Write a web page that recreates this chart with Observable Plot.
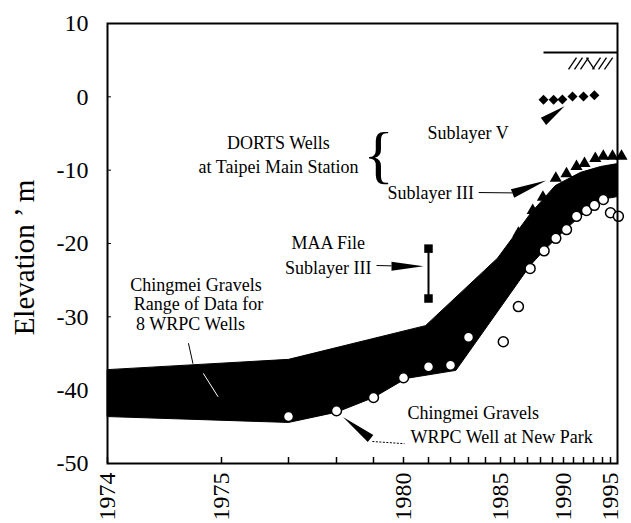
<!DOCTYPE html>
<html><head><meta charset="utf-8">
<script src="https://cdn.jsdelivr.net/npm/d3@7"></script>
<script src="https://cdn.jsdelivr.net/npm/@observablehq/plot@0.6"></script>
<style>body{margin:0;background:#fff}</style>
</head><body><div id="chart"></div>
<script>
// ---- axis ticks ----
const tickYears = [1974,1975,1977,1978,1979,1980,1981,1982,1983,1984,1985,1986,1987,1988,1989,1990,1991,1992,1993,1994,1995];
const labelYears = [1974,1975,1980,1985,1990,1995];
const yTicks = [-50,-40,-30,-20,-10,0,10];

// ---- Chingmei Gravels range of data for 8 WRPC wells (band edges) ----
const bandUpper = [
  {year:1974, elev:-37.2},{year:1977, elev:-35.8},{year:1980.88, elev:-31.2},
  {year:1984.8, elev:-22.0},{year:1987.23, elev:-15.9},{year:1989.25, elev:-12.1},
  {year:1991.7, elev:-10.3},{year:1993.78, elev:-9.5},{year:1995.8, elev:-9.1}
];
const bandLower = [
  {year:1974, elev:-43.6},{year:1977, elev:-44.4},{year:1978, elev:-43.0},
  {year:1979, elev:-41.0},{year:1980.1, elev:-38.4},{year:1982.3, elev:-37.3},
  {year:1987.2, elev:-23.0},{year:1988.25, elev:-21.0},{year:1990.4, elev:-17.8},
  {year:1992.7, elev:-15.1},{year:1994.3, elev:-13.9},{year:1995.8, elev:-13.6}
];

// ---- WRPC well at New Park (open circles) ----
const newPark = [
  {year:1977, elev:-43.6},{year:1978, elev:-42.8},{year:1979, elev:-41.0},
  {year:1980, elev:-38.3},{year:1981, elev:-36.8},{year:1982, elev:-36.6},
  {year:1983, elev:-32.8},{year:1985.2, elev:-33.4},{year:1986.3, elev:-28.6},
  {year:1987.2, elev:-23.4},{year:1988.3, elev:-21.0},{year:1989.3, elev:-19.3},
  {year:1990.3, elev:-18.1},{year:1991.3, elev:-16.3},{year:1992.3, elev:-15.5},
  {year:1993.1, elev:-14.8},{year:1994.1, elev:-14.0},{year:1995, elev:-15.8},
  {year:1995.9, elev:-16.3}
];

// ---- DORTS wells, Sublayer III (triangles) ----
const dortsIII = [
  {year:1986.3, elev:-18.6},{year:1987.4, elev:-15.5},{year:1988.2, elev:-13.7},
  {year:1989.3, elev:-11.1},{year:1990.3, elev:-10.5},{year:1991.3, elev:-9.5},
  {year:1992.1, elev:-9.1},{year:1993.2, elev:-8.4},{year:1994.1, elev:-8.1},
  {year:1995.23, elev:-8.1},{year:1996.26, elev:-8.1}
];

// ---- DORTS wells, Sublayer V (diamonds) ----
const dortsV = [
  {year:1988.25, elev:-0.4},{year:1989.1, elev:-0.4},{year:1989.9, elev:-0.35},
  {year:1990.9, elev:0.05},{year:1992, elev:0.05},{year:1993.1, elev:0.2}
];

// ---- MAA file, Sublayer III (range) ----
const maa = [{year:1981, lo:-27.5, hi:-20.7}];

// ---- annotations ----
const notesMiddle = [
  {year:1976.70, elev:-6.36, text:"DORTS Wells"},
  {year:1976.70, elev:-9.64, text:"at Taipei Main Station"},
  {year:1977.83, elev:-20.0, text:"MAA File"},
  {year:1977.83, elev:-23.4, text:"Sublayer III"}
];
const notesStart = [
  {year:1980.96, elev:-5.0, text:"Sublayer V"},
  {year:1979.47, elev:-13.18, text:"Sublayer III"},
  {year:1974.2, elev:-25.7, text:"Chingmei Gravels"},
  {year:1974.23, elev:-28.3, text:"Range of Data for"},
  {year:1974.25, elev:-30.95, text:"8 WRPC Wells"},
  {year:1980.16, elev:-43.18, text:"Chingmei Gravels"},
  {year:1980.28, elev:-46.45, text:"WRPC Well at New Park"}
];
const wedges = [
  {year:1988.25, elev:-3.36, len:26, angle:54},
  {year:1985.86, elev:-13.18, len:36, angle:69},
  {year:1979.6, elev:-23.1, len:32, angle:90},
  {year:1978.92, elev:-46.6, len:35, angle:-52}
];
const leaders = [
  {x1:1983.6, y1:-13.05, x2:1985.86, y2:-13.1},
  {x1:1979.1, y1:-23.0, x2:1979.6, y2:-23.05},
  {x1:1974.71, y1:-33.6, x2:1974.75, y2:-36.4}
];
const dotted = [{x1:1978.97, y1:-47.0, x2:1980.04, y2:-47.3}];
const whiteLeader = [{x1:1974.84, y1:-37.7, x2:1974.97, y2:-40.9}];
const ground = [{x1:1988.25, y1:6.05, x2:1995.8, y2:6.05}];
const hatch = [
  {x1:1990.5, y1:3.73, x2:1991.3, y2:5.36},
  {x1:1991.1, y1:3.73, x2:1991.9, y2:5.36},
  {x1:1991.7, y1:3.73, x2:1992.5, y2:5.36},
  {x1:1992.3, y1:5.36, x2:1993.1, y2:3.73},
  {x1:1992.9, y1:3.73, x2:1993.78, y2:5.36},
  {x1:1993.56, y1:3.73, x2:1994.5, y2:5.36},
  {x1:1994.25, y1:3.73, x2:1995.25, y2:5.36}
];

const polygon = bandUpper.concat(bandLower.slice().reverse());
const serif = "Liberation Serif, Times New Roman, serif";

const chart = Plot.plot({
  width: 631, height: 523,
  marginLeft: 107, marginRight: 14, marginTop: 23, marginBottom: 60,
  x: {type: "linear",
      domain: [...tickYears, 1995.8],
      range: [107,221,288,336,373,403,428,450,468,485,500,514,527,540,552,563,573,583,593,602,610,617]},
  y: {domain: [-50, 10]},
  style: {fontFamily: serif, background: "white", color: "black"},
  marks: [
    Plot.line(polygon, {x: "year", y: "elev", fill: "black", stroke: "black", strokeWidth: 1, curve: "linear-closed"}),
    Plot.link(whiteLeader, {x1:"x1", y1:"y1", x2:"x2", y2:"y2", stroke:"white", strokeWidth:1}),
    Plot.link(leaders, {x1:"x1", y1:"y1", x2:"x2", y2:"y2", stroke:"black", strokeWidth:1}),
    Plot.link(dotted, {x1:"x1", y1:"y1", x2:"x2", y2:"y2", stroke:"black", strokeWidth:1, strokeDasharray:"2,1.5"}),
    Plot.link(ground, {x1:"x1", y1:"y1", x2:"x2", y2:"y2", stroke:"black", strokeWidth:2}),
    Plot.link(hatch, {x1:"x1", y1:"y1", x2:"x2", y2:"y2", stroke:"black", strokeWidth:1.3}),
    Plot.ruleX(maa, {x: "year", y1: "lo", y2: "hi", stroke: "black", strokeWidth: 2}),
    Plot.dot(maa, {x: "year", y: "lo", symbol: "square", r: 4.8, fill: "black"}),
    Plot.dot(maa, {x: "year", y: "hi", symbol: "square", r: 4.8, fill: "black"}),
    Plot.dot(newPark, {x: "year", y: "elev", r: 5, fill: "white", stroke: "black", strokeWidth: 1.5}),
    Plot.dot(dortsIII, {x: "year", y: "elev", symbol: "triangle", r: 4.5, fill: "black"}),
    Plot.dot(dortsV, {x: "year", y: "elev", symbol: "diamond2", r: 4.5, fill: "black"}),
    ...wedges.map(w => Plot.vector([w], {x: "year", y: "elev", length: w.len, rotate: w.angle, shape: "spike", r: 4.5, anchor: "start", fill: "black", stroke: "none"})),
    Plot.text(notesMiddle, {x: "year", y: "elev", text: "text", textAnchor: "middle", fontSize: 18, lineAnchor: "middle", fill: "black"}),
    Plot.text(notesStart, {x: "year", y: "elev", text: "text", textAnchor: "start", fontSize: 18, lineAnchor: "middle", fill: "black"}),
    Plot.text(["{"], {x: () => 1979.17, y: () => -8.0, text: d => d, fontSize: 64, lineAnchor: "middle", fill: "black"}),
    Plot.text(["Elevation \u2019 m"], {frameAnchor: "left", text: d => d, rotate: -90, dx: -83, dy: 14, fontSize: 29, textAnchor: "middle", lineAnchor: "middle", fill: "black"}),
    Plot.axisX({ticks: tickYears, tickSize: -6, strokeWidth: 1.5, tickFormat: () => "", label: null}),
    Plot.axisX({ticks: labelYears, tickSize: 0, tickRotate: -90, tickPadding: 9, fontSize: 24, tickFormat: d => String(d), label: null}),
    Plot.axisY({ticks: yTicks, tickSize: -4, tickPadding: 23, fontSize: 24, tickFormat: d => String(d), label: null}),
    Plot.frame({stroke: "black", strokeWidth: 2})
  ]
});
document.getElementById("chart").appendChild(chart);
</script>
</body></html>
